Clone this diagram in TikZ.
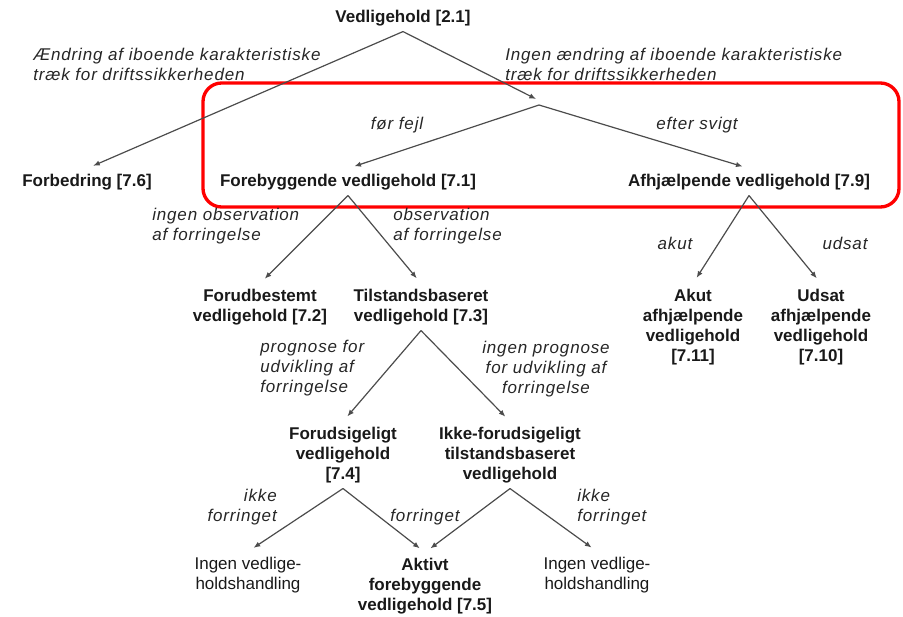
\documentclass[tikz,border=0pt]{standalone}
\usepackage{fontspec}
\setmainfont{Liberation Sans}
\newfontfamily\lblfont[LetterSpace=5]{Liberation Sans}
\usetikzlibrary{arrows.meta}

\begin{document}
\begin{tikzpicture}[x=0.75pt, y=-0.75pt, >={Latex[length=5pt,width=4pt]},
    box/.style={font=\fontsize{12.75}{15}\selectfont\bfseries, align=center, inner ysep=4pt, text=black!90},
    lbl/.style={font=\fontsize{12.75}{15}\selectfont\lblfont\itshape, inner sep=0pt, text=black!85},
    link/.style={draw=black!70, line width=0.9pt, shorten >=5pt}]
	\useasboundingbox (0,0) rectangle (903,617);
	% marked part of the tree
	\draw[red, line width=2.5pt, rounded corners=14pt] (203,83) rectangle (899,207);

	\node[box](vedl) at (403,18) {Vedligehold [2.1]};
	\node[box](forb) at (87,182) {Forbedring [7.6]};
	\node[box](fore) at (348,182) {Forebyggende vedligehold [7.1]};
	\node[box](afhj) at (749,182) {Afhjælpende vedligehold [7.9]};

	\node[box](forud) at (260,307) {Forudbestemt\\vedligehold [7.2]};
	\node[box](tilst) at (421,307) {Tilstandsbaseret\\vedligehold [7.3]};
	\node[box](akut) at (693,327) {Akut\\afhjælpende\\vedligehold\\{[7.11]}};
	\node[box](udsat) at (821,327) {Udsat\\afhjælpende\\vedligehold\\{[7.10]}};

	\node[box](forsig) at (343,455) {Forudsigeligt\\vedligehold\\{[7.4]}};
	\node[box](ikke) at (510,455) {Ikke-forudsigeligt\\tilstandsbaseret\\vedligehold};

	\node[box, font=\fontsize{12.75}{15}\selectfont](ingenA) at (248,575) {Ingen vedlige-\\holdshandling};
	\node[box](aktiv) at (425,586) {Aktivt\\forebyggende\\vedligehold [7.5]};
	\node[box, font=\fontsize{12.75}{15}\selectfont](ingenB) at (597,575) {Ingen vedlige-\\holdshandling};

	% branch labels
	\node[lbl, anchor=west, align=left](chg) at (33,64) {Ændring af iboende karakteristiske\\træk for driftssikkerheden};
	\node[lbl, anchor=west, align=left](nochg) at (505,64) {Ingen ændring af iboende karakteristiske\\træk for driftssikkerheden};
	\node[lbl](foer) at (397,125) {før fejl};
	\node[lbl](efter) at (697,125) {efter svigt};
	\node[lbl, anchor=west, align=left](noobs) at (152,226) {ingen observation\\af forringelse};
	\node[lbl, anchor=west, align=left](obs) at (393,226) {observation\\af forringelse};
	\node[lbl, anchor=west, align=left](progn) at (260,368) {prognose for\\udvikling af\\forringelse};
	\node[lbl, align=center](noprogn) at (546,369) {ingen prognose\\for udvikling af\\forringelse};
	\node[lbl](akutl) at (675,243) {akut};
	\node[lbl](udsatl) at (845,243) {udsat};
	\node[lbl, anchor=east, align=right](ikkeA) at (277,507) {ikke\\forringet};
	\node[lbl](forr) at (425,517) {forringet};
	\node[lbl, anchor=west, align=left](ikkeB) at (577,507) {ikke\\forringet};

	\coordinate (jtip) at (536,99);
	\coordinate (junc) at (539,105);

	\draw[link, ->] (vedl.south) -- (forb.north);
	\draw[link, ->, shorten >=0pt] (vedl.south) -- (jtip);
	\draw[link, ->] (junc) -- (fore.north);
	\draw[link, ->] (junc) -- (afhj.north);

	\draw[link, ->] (fore.south) -- (forud.north);
	\draw[link, ->] (fore.south) -- (tilst.north);
	\draw[link, ->] (afhj.south) -- (akut.north);
	\draw[link, ->] (afhj.south) -- (udsat.north);

	\draw[link, ->] (tilst.south) -- (forsig.north);
	\draw[link, ->] (tilst.south) -- (ikke.north);

	\draw[link, ->] (forsig.south) -- (ingenA.north);
	\draw[link, ->] (forsig.south) -- (aktiv.north);
	\draw[link, ->] (ikke.south) -- (aktiv.north);
	\draw[link, ->] (ikke.south) -- (ingenB.north);
\end{tikzpicture}
\end{document}
